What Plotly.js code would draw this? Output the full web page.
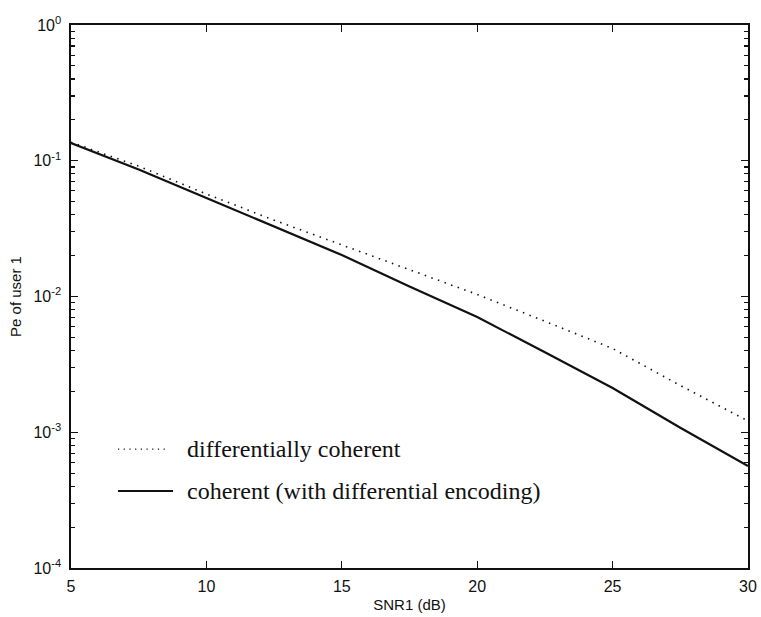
<!DOCTYPE html>
<html>
<head>
<meta charset="utf-8">
<script src="https://cdn.plot.ly/plotly-3.0.1.min.js"></script>
<style>
  html, body { margin: 0; padding: 0; background: #fff; }
  #chart { width: 761px; height: 617px; }
</style>
</head>
<body>
<div id="chart"></div>
<script>
// SNR of user 1 in dB
const snr = [5, 7.5, 10, 12.5, 15, 17.5, 20, 22.5, 25, 27.5, 30];

// Error probability of user 1, differentially coherent detection
const peDiffCoherent = [0.137, 0.0912, 0.0569, 0.0365, 0.0240, 0.0158, 0.01035, 0.00657, 0.00414, 0.00221, 0.00121];

// Error probability of user 1, coherent detection with differential encoding
const peCoherent = [0.135, 0.0862, 0.0532, 0.0328, 0.0202, 0.01185, 0.00706, 0.00388, 0.00212, 0.00108, 0.000564];

const xTickVals = [5, 10, 15, 20, 25, 30];
const yTickVals = [1, 0.1, 0.01, 0.001, 0.0001];
const yTickText = ['10<sup>0</sup>', '10<sup>-1</sup>', '10<sup>-2</sup>', '10<sup>-3</sup>', '10<sup>-4</sup>'];

const legendLabels = ['differentially coherent', 'coherent (with differential encoding)'];

const traces = [
  {
    x: snr, y: peDiffCoherent, type: 'scatter', mode: 'lines',
    line: { color: '#111', width: 1.6, dash: '1.5px,5.5px' },
    showlegend: false
  },
  {
    x: snr, y: peCoherent, type: 'scatter', mode: 'lines',
    line: { color: '#111', width: 2.2 },
    showlegend: false
  }
];

const tickFont = { family: 'Liberation Sans, Arial, sans-serif', size: 16, color: '#111' };
const titleFont = { family: 'Liberation Sans, Arial, sans-serif', size: 15, color: '#111' };
const legendFont = { family: 'Liberation Serif, Times New Roman, serif', size: 24, color: '#111' };

const layout = {
  width: 761, height: 617,
  margin: { l: 71, r: 13, t: 25, b: 49 },
  paper_bgcolor: '#fff', plot_bgcolor: '#fff',
  showlegend: false,
  xaxis: {
    range: [5, 30],
    tickvals: xTickVals,
    ticks: 'inside', ticklen: 7, tickwidth: 1.3, tickcolor: '#111',
    showline: true, linecolor: '#111', linewidth: 1.6, mirror: 'ticks',
    showgrid: false, zeroline: false,
    tickfont: tickFont, ticklabelstandoff: 3,
    title: { text: 'SNR1 (dB)', font: titleFont, standoff: 6 }
  },
  yaxis: {
    type: 'log',
    range: [-4, 0],
    tickvals: yTickVals, ticktext: yTickText,
    ticks: 'inside', ticklen: 7, tickwidth: 1.3, tickcolor: '#111',
    minor: { ticks: 'inside', ticklen: 4, tickwidth: 1.1, tickcolor: '#111', dtick: 'D1', showgrid: false },
    showline: true, linecolor: '#111', linewidth: 1.6, mirror: 'ticks',
    showgrid: false, zeroline: false,
    tickfont: tickFont, ticklabelstandoff: 5,
    title: { text: 'Pe of user 1', font: titleFont, standoff: 8 }
  },
  shapes: [
    { type: 'line', xref: 'paper', yref: 'paper', x0: 0.0694, x1: 0.1433, y0: 0.219, y1: 0.219,
      line: { color: '#111', width: 1.4, dash: '1.2px,4.5px' } },
    { type: 'line', xref: 'paper', yref: 'paper', x0: 0.0694, x1: 0.1507, y0: 0.142, y1: 0.142,
      line: { color: '#111', width: 2 } }
  ],
  annotations: [
    { xref: 'paper', yref: 'paper', x: 0.168, y: 0.219, xanchor: 'left', yanchor: 'middle',
      text: legendLabels[0], showarrow: false, font: legendFont },
    { xref: 'paper', yref: 'paper', x: 0.168, y: 0.142, xanchor: 'left', yanchor: 'middle',
      text: legendLabels[1], showarrow: false, font: legendFont }
  ]
};

Plotly.newPlot('chart', traces, layout, { displayModeBar: false, staticPlot: true });
</script>
</body>
</html>
